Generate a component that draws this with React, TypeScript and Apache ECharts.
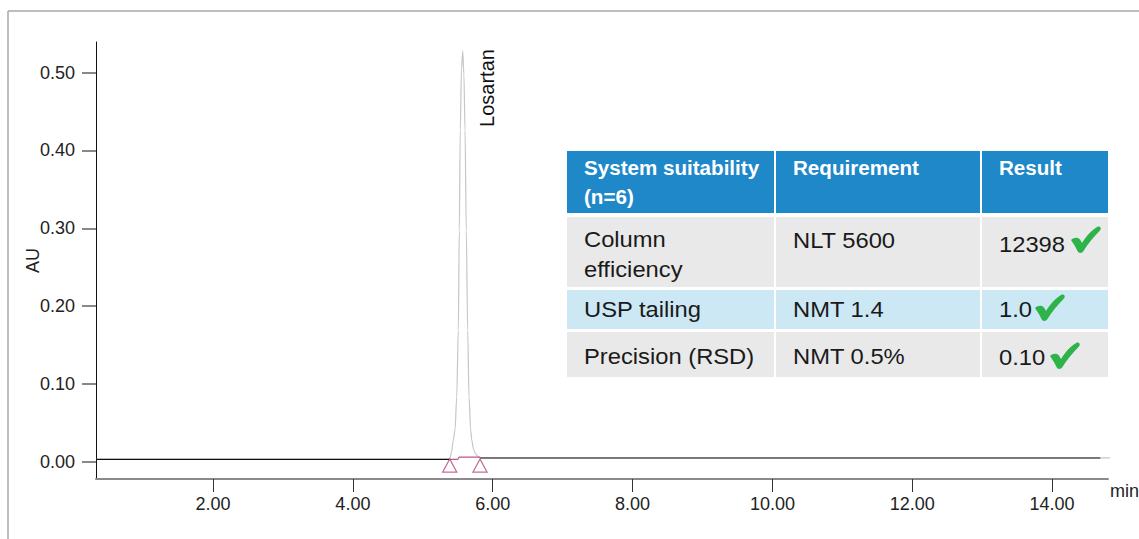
import React, { useEffect, useRef } from "react";
import * as echarts from "echarts";

// ---------- data ----------
const xTickValues = [2, 4, 6, 8, 10, 12, 14];
const yTickValues = [0, 0.1, 0.2, 0.3, 0.4, 0.5];

// chromatogram trace (min, AU)
const traceTimes = [0.326, 5.36, 5.39, 5.41, 5.436, 5.461, 5.485, 5.508, 5.522, 5.536, 5.553, 5.571, 5.588, 5.604, 5.622, 5.642, 5.661, 5.685, 5.7, 5.725, 5.755, 5.79, 5.818, 14.98];
const traceValues = [0.003, 0.003, 0.005, 0.012, 0.028, 0.041, 0.083, 0.169, 0.297, 0.426, 0.505, 0.528, 0.497, 0.426, 0.297, 0.169, 0.083, 0.041, 0.028, 0.016, 0.01, 0.007, 0.005, 0.005];

const preBaselineTimes = [0.326, 5.385];
const preBaselineValues = [0.003, 0.003];
const postBaselineTimes = [5.818, 14.69];
const postBaselineValues = [0.005, 0.005];
const integrationTimes = [5.385, 5.5, 5.52, 5.818];
const integrationValues = [0.003, 0.003, 0.006, 0.006];
const peakMarkerTimes = [5.385, 5.818];
const peakMarkerValues = [-0.0048, -0.0048];
const peakName = "Losartan";

const tableHeader = ["System suitability\n(n=6)", "Requirement", "Result"];
const tableRows = [
  ["Column\nefficiency", "NLT 5600", "12398"],
  ["USP tailing", "NMT 1.4", "1.0"],
  ["Precision (RSD)", "NMT 0.5%", "0.10"],
];
const rowPassed = [true, true, true];

// ---------- layout (positions / styles) ----------
const FONT = "'Liberation Sans', Arial, sans-serif";
const colX = [[567, 774], [776, 980], [982, 1108]];
const headerY = [151, 213];
const rowY = [[217, 287], [290, 329], [332, 377]];
const rowFill = ["#e9e9e9", "#cce8f4", "#e9e9e9"];
const textPadX = 17;
const rowTextCenter = [[239, 240, 244], [309, 309, 309], [356, 356, 357]];
const checkPos = [[1071, 227], [1035, 295], [1050, 343]];

const pairs = (xs: number[], ys: number[]) => xs.map((x, i) => [x, ys[i]]);

echarts.graphic.registerShape(
  "checkmark",
  echarts.graphic.extendPath(
    "M0 13 C3 10 7 10 9 12.5 L11 16 C15.5 8.5 21.5 2.5 27 -0.5 C29.5 -1 30.5 1.5 29 3.5 C23 9.5 17 16.5 12.5 24 C11 26.5 7.5 26.5 6.5 24 C4.5 20 2.5 16.5 0 13 Z",
    {}
  )
);

export default function App() {
  const ref = useRef<HTMLDivElement>(null);
  useEffect(() => {
    if (!ref.current) return;
    const chart = echarts.init(ref.current, undefined, { renderer: "svg" });

    const graphics: any[] = [];
    // outer frame
    graphics.push({ type: "line", shape: { x1: 8, y1: 11, x2: 1139, y2: 11 }, style: { stroke: "#a8a8a8", lineWidth: 1.5 } });
    graphics.push({ type: "line", shape: { x1: 8, y1: 11, x2: 8, y2: 539 }, style: { stroke: "#a8a8a8", lineWidth: 1.5 } });

    // table header
    tableHeader.forEach((t, c) => {
      graphics.push({
        type: "rect",
        shape: { x: colX[c][0], y: headerY[0], width: colX[c][1] - colX[c][0], height: headerY[1] - headerY[0] },
        style: { fill: "#1f88c9" },
      });
      graphics.push({
        type: "text",
        x: colX[c][0] + textPadX,
        y: 153.5,
        scaleX: 1.03,
        style: { text: t, fill: "#ffffff", font: `bold 20px ${FONT}`, lineHeight: 29, align: "left", verticalAlign: "top" },
      });
    });
    // table rows
    tableRows.forEach((row, r) => {
      row.forEach((t, c) => {
        graphics.push({
          type: "rect",
          shape: { x: colX[c][0], y: rowY[r][0], width: colX[c][1] - colX[c][0], height: rowY[r][1] - rowY[r][0] },
          style: { fill: rowFill[r] },
        });
        const cy = rowTextCenter[r][c];
        graphics.push({
          type: "text",
          x: colX[c][0] + textPadX,
          y: cy - 15,
          scaleX: 1.08,
          style: {
            text: t,
            fill: "#1a1a1a",
            font: `22px ${FONT}`,
            lineHeight: 30,
            align: "left",
            verticalAlign: "top",
          },
        });
      });
      if (rowPassed[r]) {
        graphics.push({
          type: "checkmark",
          x: checkPos[r][0],
          y: checkPos[r][1],
          style: { fill: "#2db34a" },
        });
      }
    });
    // peak label
    graphics.push({
      type: "text",
      x: 487,
      y: 88,
      rotation: Math.PI / 2,
      style: { text: peakName, fill: "#111", font: `20px ${FONT}`, align: "center", verticalAlign: "middle" },
    });

    chart.setOption({
      animation: false,
      backgroundColor: "#ffffff",
      grid: { left: 96, right: 31, top: 42, bottom: 60, outerBoundsMode: "none" },
      xAxis: {
        type: "value",
        min: 0.326,
        max: 14.8,
        name: "min",
        nameLocation: "end",
        nameGap: 2,
        nameMoveOverlap: false,
        nameTextStyle: { fontSize: 18, color: "#222", fontFamily: FONT, verticalAlign: "top", padding: [3, 0, 0, 0], align: "left" },
        axisLine: { show: true, onZero: false, lineStyle: { color: "#8a8a8a", width: 2 } },
        axisTick: { show: true, customValues: xTickValues, length: 13, inside: false, lineStyle: { color: "#333", width: 1 } },
        axisLabel: {
          customValues: xTickValues,
          formatter: (v: number) => v.toFixed(2),
          fontSize: 18,
          color: "#222",
          fontFamily: FONT,
          margin: 16,
        },
        splitLine: { show: false },
      },
      yAxis: {
        type: "value",
        min: -0.0221,
        max: 0.5393,
        name: "AU",
        nameLocation: "middle",
        nameGap: 54,
        nameRotate: 90,
        nameMoveOverlap: false,
        nameTextStyle: { fontSize: 18, color: "#222", fontFamily: FONT },
        axisLine: { show: true, onZero: false, lineStyle: { color: "#111", width: 1 } },
        axisTick: { show: true, customValues: yTickValues, length: 14, lineStyle: { color: "#888", width: 2 } },
        axisLabel: {
          customValues: yTickValues,
          formatter: (v: number) => v.toFixed(2),
          fontSize: 18,
          color: "#222",
          fontFamily: FONT,
          margin: 21,
        },
        splitLine: { show: false },
      },
      series: [
        {
          type: "line",
          data: pairs(traceTimes, traceValues),
          showSymbol: false,
          smooth: 0.3,
          smoothMonotone: "x",
          clip: false,
          lineStyle: { color: "#c6c6c6", width: 1.2 },
          z: 2,
        },
        {
          type: "line",
          data: pairs(preBaselineTimes, preBaselineValues),
          showSymbol: false,
          lineStyle: { color: "#111", width: 1.2 },
          z: 3,
        },
        {
          type: "line",
          data: pairs(postBaselineTimes, postBaselineValues),
          showSymbol: false,
          lineStyle: { color: "#5a5a5a", width: 1.5 },
          z: 3,
        },
        {
          type: "line",
          data: pairs(integrationTimes, integrationValues),
          showSymbol: false,
          lineStyle: { color: "#c0558f", width: 1.2 },
          z: 4,
        },
        {
          type: "scatter",
          data: pairs(peakMarkerTimes, peakMarkerValues),
          symbol: "triangle",
          symbolSize: [14, 13],
          clip: false,
          itemStyle: { color: "rgba(0,0,0,0)", borderColor: "#b5487f", borderWidth: 1.3 },
          z: 5,
        },
      ],
      graphic: graphics,
    });
    return () => chart.dispose();
  }, []);
  return (
    <div
      ref={ref}
      style={{ position: "fixed", left: 0, top: 0, width: 1139, height: 539, background: "#fff" }}
    />
  );
}
